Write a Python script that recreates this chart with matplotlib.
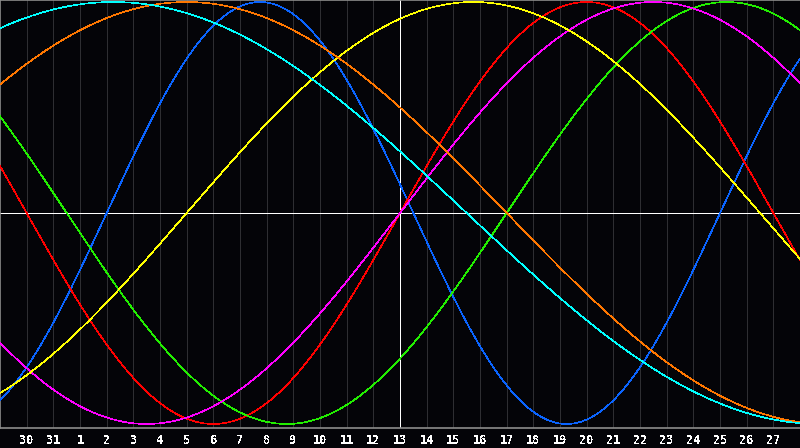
import numpy as np
import matplotlib
matplotlib.use("Agg")
import matplotlib.pyplot as plt

# Day labels under the gridlines (30 days window, centre day = 13)
day_labels = ["30", "31"] + [str(d) for d in range(1, 28)]
center_index = 15  # gridline index of day 13

# Cycles: period (days), days into the cycle on the centre day, colour
periods = [23, 28, 33, 38, 43, 48, 53]
phases = [11, 0, 29, 0, 8, 20, 24]
colors = ["#0a64ff", "#ff0000", "#22ee00", "#ff00ff", "#ffff00", "#ff7700", "#00ffff"]

plt.rcParams["text.antialiased"] = False

fig = plt.figure(figsize=(8, 4.48), dpi=100, facecolor="#040408")
ax = fig.add_axes([0, 1 - 428 / 448, 1, 428 / 448])
ax.set_facecolor("#040408")

ax.set_xlim(0, 30)
ax.set_ylim(-1.019, 1.0095)

# vertical day grid
for k in range(1, len(day_labels) + 1):
    ax.axvline(k, color="#2e2e32", lw=0.6, zorder=1, antialiased=False)

# centre lines
ax.axvline(center_index, color="white", lw=0.6, zorder=2, antialiased=False)
ax.axhline(0, color="white", lw=0.6, zorder=2, antialiased=False)

x = np.linspace(0, 30, 3000)
for p, ph, c in zip(periods, phases, colors):
    t = x - center_index + ph
    ax.plot(x, np.sin(2 * np.pi * t / p), color=c, lw=0.45, zorder=3, antialiased=False)

ax.set_xticks(range(1, len(day_labels) + 1))
ax.set_xticklabels(day_labels)
ax.tick_params(axis="x", length=0, pad=4.5, colors="white", labelsize=8.5)
for lab in ax.get_xticklabels():
    lab.set_fontweight("bold")
    lab.set_family("DejaVu Sans Mono")
ax.set_yticks([])

for s in ["left", "top", "bottom"]:
    ax.spines[s].set_color("#8c8c8c")
    ax.spines[s].set_linewidth(1.2)
ax.spines["right"].set_visible(False)

fig.savefig("out.png", dpi=100, facecolor=fig.get_facecolor())
